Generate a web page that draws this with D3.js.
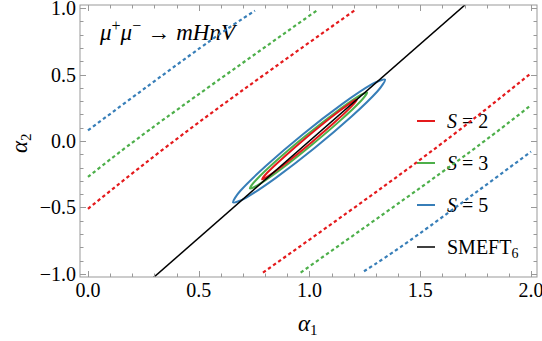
<!DOCTYPE html>
<html>
<head>
<meta charset="utf-8">
<script src="https://cdn.jsdelivr.net/npm/d3@7"></script>
</head>
<body style="margin:0">
<script>
// unitarity bounds, mu+ mu- -> m H n V
var svgWidth = 542;
var svgHeight = 341;
var margin = {top: 5, right: 5, bottom: 64, left: 80};
var plotW = svgWidth - margin.left - margin.right;
var plotH = svgHeight - margin.top - margin.bottom;
var fontName = "Liberation Serif";

// data
var sValues = ["2", "3", "5"];
var xMajorTicks = [0, 0.5, 1, 1.5, 2];
var yMajorTicks = [-1, -0.5, 0, 0.5, 1];
var tickLabelsX = ["0.0", "0.5", "1.0", "1.5", "2.0"];
var tickLabelsY = ["\u22121.0", "\u22120.5", "0.0", "0.5", "1.0"];

// dotted bounds (alpha1, alpha2)
var boundS2Upper = [[0, -0.51], [0.5, 0.14], [1.21, 0.99]];
var boundS2Lower = [[0.79, -0.99], [1.5, -0.14], [2, 0.51]];
var boundS3Upper = [[0, -0.27], [0.34, 0.16], [1.04, 0.99]];
var boundS3Lower = [[0.96, -0.99], [1.66, -0.16], [2, 0.27]];
var boundS5Upper = [[0, 0.08], [0.506, 0.70], [0.754, 0.98]];
var boundS5Lower = [[1.246, -0.98], [1.494, -0.70], [2, -0.08]];

// closed contours
var contourS2 = [[1.214, 0.312], [1.191, 0.262], [1.116, 0.144], [1.010, -0.009], [0.902, -0.156], [0.819, -0.259],
  [0.786, -0.289], [0.809, -0.239], [0.884, -0.122], [0.990, 0.032], [1.098, 0.179], [1.181, 0.281]];
var contourS3 = [[1.260, 0.365], [1.232, 0.301], [1.141, 0.157], [1.011, -0.028], [0.877, -0.205], [0.774, -0.325],
  [0.731, -0.357], [0.759, -0.293], [0.850, -0.149], [0.980, 0.035], [1.114, 0.211], [1.217, 0.332]];
var contourS5 = [[1.341, 0.462], [1.307, 0.374], [1.191, 0.186], [1.023, -0.053], [0.848, -0.277], [0.713, -0.427],
  [0.655, -0.462], [0.688, -0.374], [0.804, -0.186], [0.972, 0.053], [1.147, 0.277], [1.282, 0.427]];

// SMEFT6 line
var smeftLine = [[0.28, -1.05], [1.72, 1.05]];

var colors = ["#e41a1c", "#4daf4a", "#377eb8"];

// scales
var xScale = d3.scaleLinear().domain([-0.036, 2.027]).range([0, plotW]);
var yScale = d3.scaleLinear().domain([-1.023, 1.023]).range([plotH, 0]);

// SVG
var svg = d3.select("body")
  .append("svg")
  .attr("width", svgWidth)
  .attr("height", svgHeight);

// texts first
var textLayer = svg.append("g");
function addText(x, y, size) {
  return textLayer.append("text")
    .attr("x", x).attr("y", y)
    .attr("font-size", size)
    .style("font-family", fontName);
}

xMajorTicks.forEach(function(v, i) {
  addText(margin.left + xScale(v), margin.top + plotH + 20, "20px")
    .attr("text-anchor", "middle")
    .text(tickLabelsX[i]);
});
yMajorTicks.forEach(function(v, i) {
  addText(margin.left - 4, margin.top + yScale(v) + 7, "20px")
    .attr("text-anchor", "end")
    .text(tickLabelsY[i]);
});

// axes labels
var xTitle = addText(298, 331, "23px");
xTitle.append("tspan").attr("font-style", "italic").text("\u03b1");
xTitle.append("tspan").attr("font-size", "15px").attr("dy", 4).text("1");

var yTitle = addText(0, 0, "23px").attr("transform", "translate(27, 153) rotate(-90)");
yTitle.append("tspan").attr("font-style", "italic").text("\u03b1");
yTitle.append("tspan").attr("font-size", "15px").attr("dy", 4).text("2");

// process label
var procLabel = addText(100, 40, "23px");
procLabel.append("tspan").attr("font-style", "italic").text("\u03bc");
procLabel.append("tspan").attr("font-size", "16px").attr("dy", -9).text("+");
procLabel.append("tspan").attr("font-style", "italic").attr("dy", 9).text("\u03bc");
procLabel.append("tspan").attr("font-size", "16px").attr("dy", -9).text("\u2212");
procLabel.append("tspan").attr("dy", 9).attr("dx", 6).text("\u2192");
procLabel.append("tspan").attr("font-style", "italic").attr("dx", 6).text("mHnV");

// legend
var legendRows = [121, 163, 205, 247];
legendRows.forEach(function(y, i) {
  var t = addText(447, y + 7, "20px");
  if (i < 3) {
    t.append("tspan").attr("font-style", "italic").text("S");
    t.append("tspan").text(" = " + sValues[i]);
  } else {
    t.append("tspan").text("SMEFT");
    t.append("tspan").attr("font-size", "14px").attr("dy", 4).text("6");
  }
});

var legendMarks = svg.append("g");
legendRows.forEach(function(y, i) {
  legendMarks.append("line")
    .attr("x1", 417).attr("x2", 435)
    .attr("y1", y).attr("y2", y)
    .attr("stroke", i < 3 ? colors[i] : "#000")
    .attr("stroke-width", i < 3 ? 2 : 1.5);
});

// plot area
var chartGroup = svg.append("g")
  .attr("transform", `translate(${margin.left}, ${margin.top})`);

chartGroup.append("clipPath").attr("id", "plotclip")
  .append("rect").attr("width", plotW).attr("height", plotH);

var plot = chartGroup.append("g").attr("clip-path", "url(#plotclip)");

var curveLine = d3.line()
  .x(d => xScale(d[0]))
  .y(d => yScale(d[1]))
  .curve(d3.curveNatural);
var closedLine = d3.line()
  .x(d => xScale(d[0]))
  .y(d => yScale(d[1]))
  .curve(d3.curveCardinalClosed.tension(0.3));

// dotted bounds
var bounds = [boundS2Upper, boundS2Lower, boundS3Upper, boundS3Lower, boundS5Upper, boundS5Lower];
bounds.forEach(function(b, i) {
  plot.append("path")
    .attr("d", curveLine(b))
    .attr("fill", "none")
    .attr("stroke", colors[Math.floor(i / 2)])
    .attr("stroke-width", 2.2)
    .attr("stroke-dasharray", "3.4,2.8");
});

// contours
[contourS5, contourS3, contourS2].forEach(function(c, i) {
  plot.append("path")
    .attr("d", closedLine(c))
    .attr("fill", "none")
    .attr("stroke", colors[2 - i])
    .attr("stroke-width", 2);
});

plot.append("path")
  .attr("d", d3.line().x(d => xScale(d[0])).y(d => yScale(d[1]))(smeftLine))
  .attr("fill", "none")
  .attr("stroke", "#000")
  .attr("stroke-width", 1.5);

// frame + ticks (pointing inward)
var frameColor = "#999";
chartGroup.append("rect")
  .attr("width", plotW).attr("height", plotH)
  .attr("fill", "none").attr("stroke", frameColor).attr("stroke-width", 1);

var xTicks = xScale.ticks(20);
var yTicks = yScale.ticks(20);
function isMajor(v) { return Math.abs(v * 2 - Math.round(v * 2)) < 1e-6; }
var tickGroup = chartGroup.append("g").attr("stroke", frameColor).attr("stroke-width", 1);
xTicks.forEach(function(v) {
  var len = isMajor(v) ? 6 : 3.5;
  var x = Math.round(xScale(v)) + 0.5;
  tickGroup.append("line").attr("x1", x).attr("x2", x).attr("y1", plotH).attr("y2", plotH - len);
  tickGroup.append("line").attr("x1", x).attr("x2", x).attr("y1", 0).attr("y2", len);
});
yTicks.forEach(function(v) {
  var len = isMajor(v) ? 6 : 3.5;
  var y = Math.round(yScale(v)) + 0.5;
  tickGroup.append("line").attr("x1", 0).attr("x2", len).attr("y1", y).attr("y2", y);
  tickGroup.append("line").attr("x1", plotW).attr("x2", plotW - len).attr("y1", y).attr("y2", y);
});
</script>
</body>
</html>
